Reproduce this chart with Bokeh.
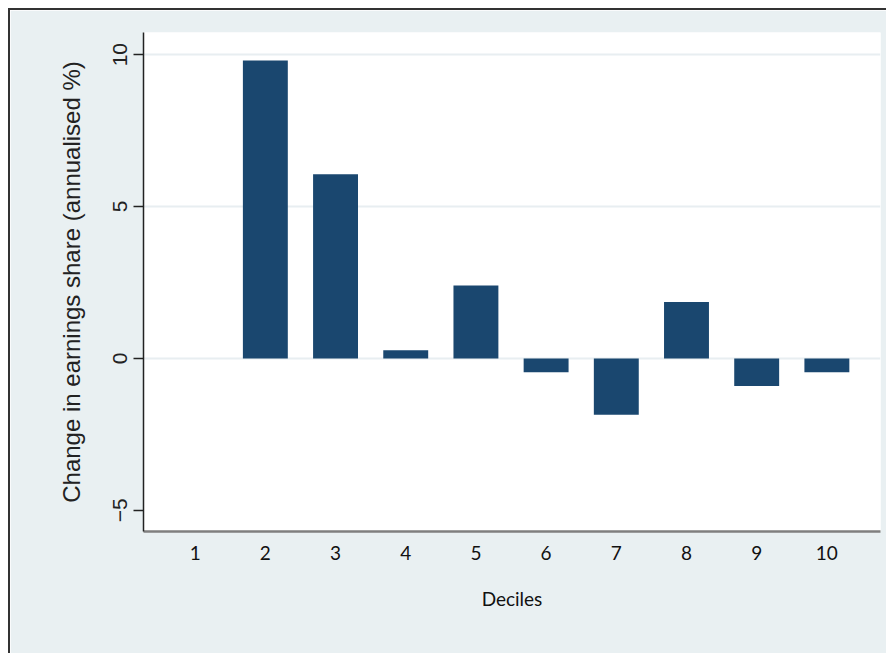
from bokeh.plotting import figure
from bokeh.models import ColumnDataSource, FixedTicker, Range1d
from bokeh.embed import file_html
from bokeh.resources import INLINE

deciles = [1, 2, 3, 4, 5, 6, 7, 8, 9, 10]
change = [0.0, 9.81, 6.06, 0.27, 2.40, -0.46, -1.86, 1.86, -0.91, -0.46]
y_ticks = [-5, 0, 5, 10]
grid_ticks = [0, 5, 10]
x_label = "Deciles"
y_label = "Change in earnings share (annualised %)"

BG = "#e9f0f2"
BAR = "#1a476f"

src = ColumnDataSource(dict(x=deciles, top=change))

p = figure(width=878, height=645, output_backend="svg", toolbar_location=None,
           x_range=Range1d(0.264, 10.764), y_range=Range1d(-5.70, 10.73),
           min_border_left=133, min_border_top=22, min_border_right=8,
           min_border_bottom=124)
p.styles = {"margin-left": "8px", "margin-top": "8px",
            "border-top": "2px solid #333333", "border-left": "2px solid #333333"}
p.background_fill_color = "white"
p.border_fill_color = BG
p.outline_line_color = None

p.vbar(x="x", top="top", bottom=0, width=0.64, source=src,
       fill_color=BAR, line_color=None)

# y axis
p.yaxis.ticker = FixedTicker(ticks=y_ticks)
p.yaxis.major_label_orientation = "vertical"
p.yaxis.major_label_text_font = "Liberation Sans"
p.yaxis.major_label_text_font_size = "21px"
p.yaxis.major_label_text_color = "#222222"
p.yaxis.major_tick_out = 10
p.yaxis.major_tick_in = 0
p.yaxis.minor_tick_out = 0
p.yaxis.minor_tick_in = 0
p.yaxis.major_tick_line_color = "#222222"
p.yaxis.axis_line_color = "#222222"
p.yaxis.axis_line_width = 1.5
p.yaxis.major_tick_line_width = 1.5
p.yaxis.major_label_standoff = 6
p.yaxis.axis_label = y_label
p.yaxis.axis_label_text_font = "Liberation Sans"
p.yaxis.axis_label_text_font_size = "24px"
p.yaxis.axis_label_text_font_style = "normal"
p.yaxis.axis_label_text_color = "#222222"
p.yaxis.axis_label_standoff = 26

# x axis
p.xaxis.ticker = FixedTicker(ticks=deciles)
p.xaxis.major_label_text_font = "Lato"
p.xaxis.major_label_text_font_size = "19px"
p.xaxis.major_label_text_color = "#111111"
p.xaxis.major_tick_out = 0
p.xaxis.major_tick_in = 0
p.xaxis.minor_tick_out = 0
p.xaxis.minor_tick_in = 0
p.xaxis.axis_line_color = "#7f7f7f"
p.xaxis.axis_line_width = 2.5
p.xaxis.major_label_standoff = 14
p.xaxis.axis_label = x_label
p.xaxis.axis_label_text_font = "Lato"
p.xaxis.axis_label_text_font_size = "19px"
p.xaxis.axis_label_text_font_style = "normal"
p.xaxis.axis_label_text_color = "#111111"
p.xaxis.axis_label_standoff = 24

p.xgrid.visible = False
p.ygrid.ticker = FixedTicker(ticks=grid_ticks)
p.ygrid.grid_line_color = "#e8eef1"
p.ygrid.grid_line_width = 2

open("out.html", "w").write(file_html(p, INLINE))
